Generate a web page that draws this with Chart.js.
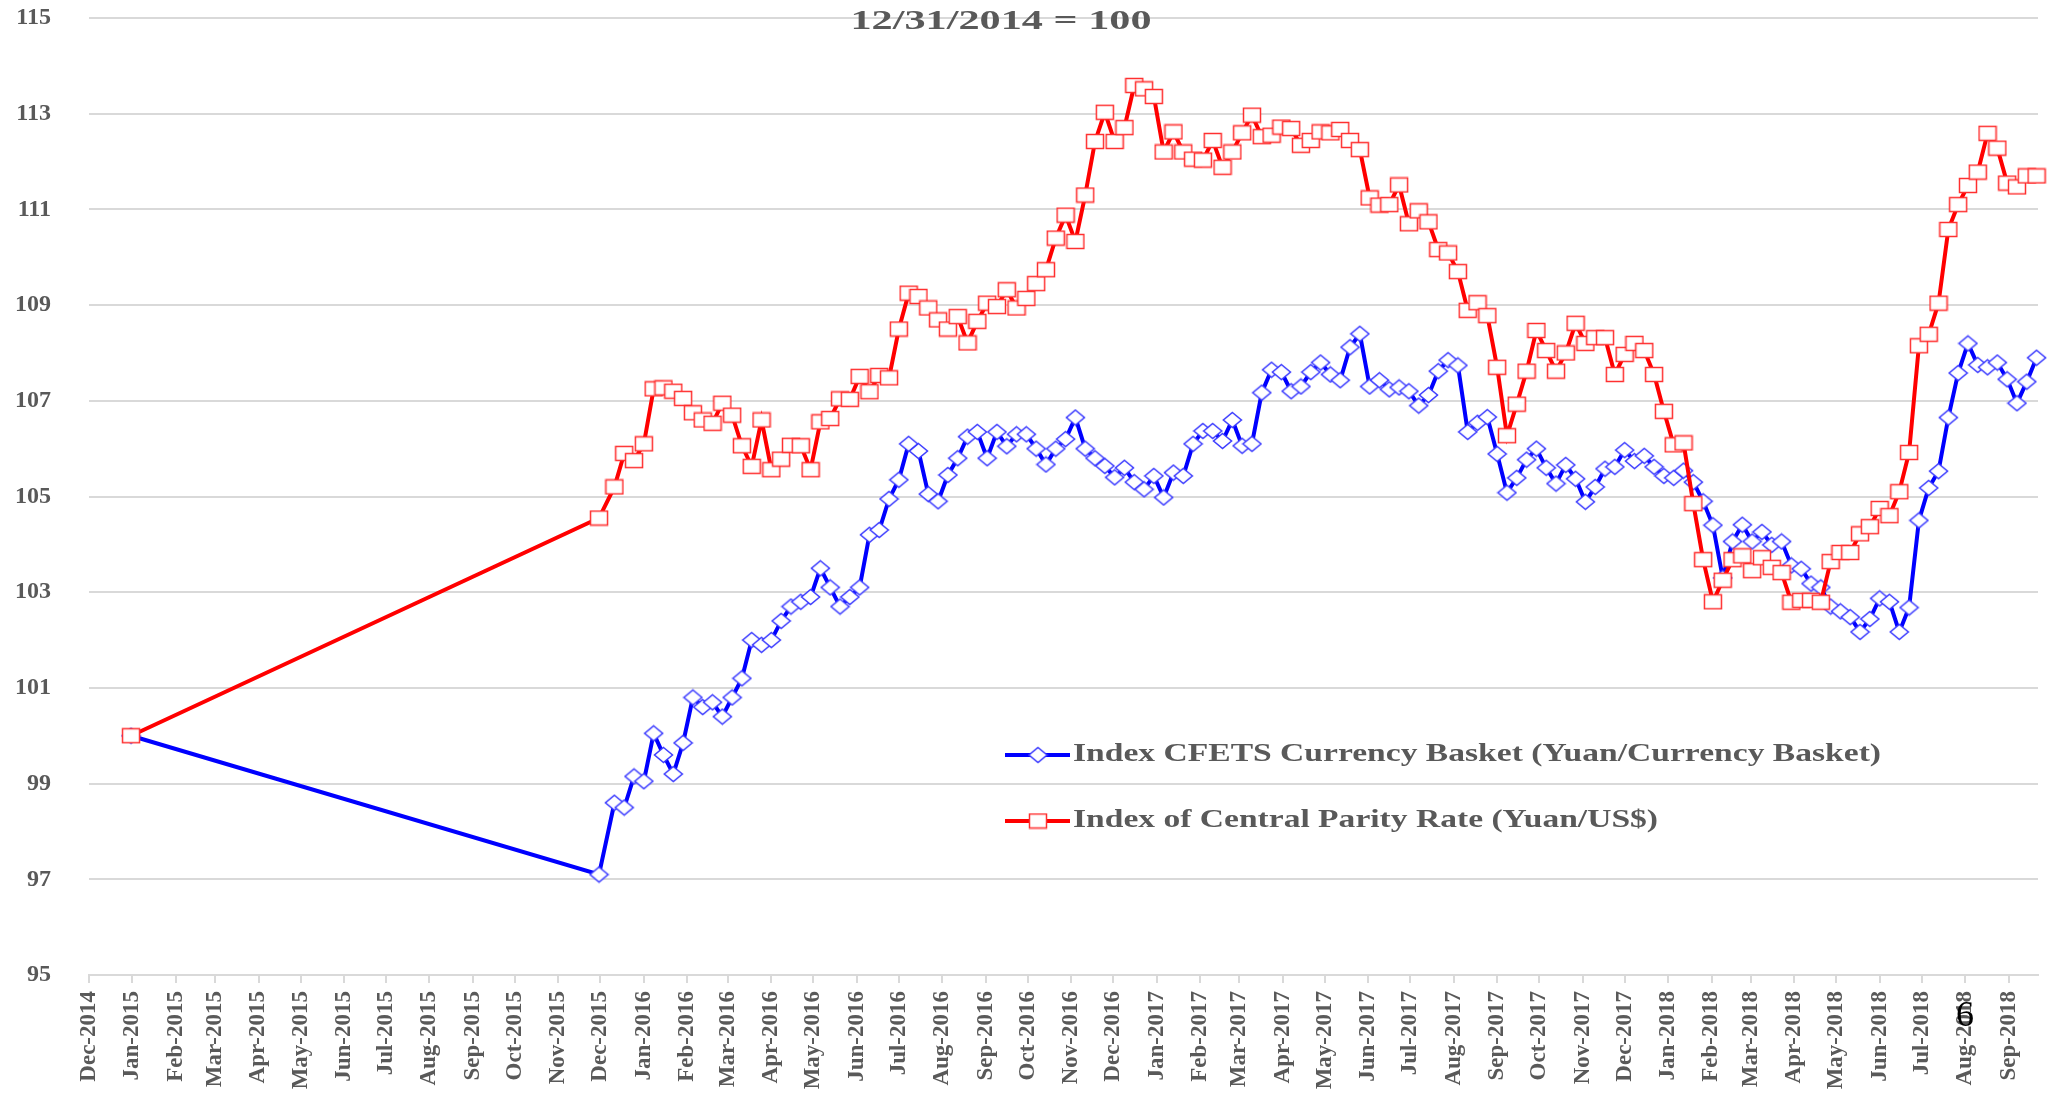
<!DOCTYPE html>
<html>
<head>
<meta charset="utf-8">
<title>CFETS basket index vs central parity index</title>
<script src="https://cdn.jsdelivr.net/npm/chart.js@4.4.1/dist/chart.umd.min.js"></script>
<style>
  html, body { margin: 0; padding: 0; background: #fff; }
  canvas { display: block; }
</style>
</head>
<body>
<canvas id="chart" width="2053" height="1099"></canvas>
<script>
// month ticks along the x axis
const monthLabels = [
  'Dec-2014',
  'Jan-2015','Feb-2015','Mar-2015','Apr-2015','May-2015','Jun-2015',
  'Jul-2015','Aug-2015','Sep-2015','Oct-2015','Nov-2015','Dec-2015',
  'Jan-2016','Feb-2016','Mar-2016','Apr-2016','May-2016','Jun-2016',
  'Jul-2016','Aug-2016','Sep-2016','Oct-2016','Nov-2016','Dec-2016',
  'Jan-2017','Feb-2017','Mar-2017','Apr-2017','May-2017','Jun-2017',
  'Jul-2017','Aug-2017','Sep-2017','Oct-2017','Nov-2017','Dec-2017',
  'Jan-2018','Feb-2018','Mar-2018','Apr-2018','May-2018','Jun-2018',
  'Jul-2018','Aug-2018','Sep-2018'
];

// observation dates: the 12/31/2014 base, end of Nov 2015, then weekly fixings
const obsDates = [
  '2014-12-31','2015-11-30',
  '2015-12-11','2015-12-18','2015-12-25',
  '2016-01-01','2016-01-08','2016-01-15','2016-01-22','2016-01-29',
  '2016-02-05','2016-02-12','2016-02-19','2016-02-26',
  '2016-03-04','2016-03-11','2016-03-18','2016-03-25',
  '2016-04-01','2016-04-08','2016-04-15','2016-04-22','2016-04-29',
  '2016-05-06','2016-05-13','2016-05-20','2016-05-27',
  '2016-06-03','2016-06-10','2016-06-17','2016-06-24',
  '2016-07-01','2016-07-08','2016-07-15','2016-07-22','2016-07-29',
  '2016-08-05','2016-08-12','2016-08-19','2016-08-26',
  '2016-09-02','2016-09-09','2016-09-16','2016-09-23','2016-09-30',
  '2016-10-07','2016-10-14','2016-10-21','2016-10-28',
  '2016-11-04','2016-11-11','2016-11-18','2016-11-25',
  '2016-12-02','2016-12-09','2016-12-16','2016-12-23','2016-12-30',
  '2017-01-06','2017-01-13','2017-01-20','2017-01-27',
  '2017-02-03','2017-02-10','2017-02-17','2017-02-24',
  '2017-03-03','2017-03-10','2017-03-17','2017-03-24','2017-03-31',
  '2017-04-07','2017-04-14','2017-04-21','2017-04-28',
  '2017-05-05','2017-05-12','2017-05-19','2017-05-26',
  '2017-06-02','2017-06-09','2017-06-16','2017-06-23','2017-06-30',
  '2017-07-07','2017-07-14','2017-07-21','2017-07-28',
  '2017-08-04','2017-08-11','2017-08-18','2017-08-25',
  '2017-09-01','2017-09-08','2017-09-15','2017-09-22','2017-09-29',
  '2017-10-06','2017-10-13','2017-10-20','2017-10-27',
  '2017-11-03','2017-11-10','2017-11-17','2017-11-24',
  '2017-12-01','2017-12-08','2017-12-15','2017-12-22','2017-12-29',
  '2018-01-05','2018-01-12','2018-01-19','2018-01-26',
  '2018-02-02','2018-02-09','2018-02-16','2018-02-23',
  '2018-03-02','2018-03-09','2018-03-16','2018-03-23','2018-03-30',
  '2018-04-06','2018-04-13','2018-04-20','2018-04-27',
  '2018-05-04','2018-05-11','2018-05-18','2018-05-25',
  '2018-06-01','2018-06-08','2018-06-15','2018-06-22','2018-06-29',
  '2018-07-06','2018-07-13','2018-07-20','2018-07-27',
  '2018-08-03','2018-08-10','2018-08-17','2018-08-24','2018-08-31',
  '2018-09-07','2018-09-14','2018-09-21'
];

// Index CFETS Currency Basket (blue)
const cfetsIndex = [
  100,
  97.1,
  98.6, 98.5, 99.15,
  99.05, 100.05, 99.6, 99.2, 99.85,
  100.8, 100.6, 100.7, 100.4,
  100.8, 101.2, 102.0, 101.9,
  102.0, 102.4, 102.7, 102.8, 102.9,
  103.5, 103.1, 102.7, 102.9,
  103.1, 104.2, 104.3, 104.95,
  105.35, 106.1, 105.95, 105.05, 104.9,
  105.45, 105.8, 106.25, 106.35,
  105.8, 106.35, 106.05, 106.3, 106.3,
  106.0, 105.67, 106.0, 106.2,
  106.65, 106.0, 105.8, 105.64,
  105.4, 105.6, 105.3, 105.15, 105.43,
  104.98, 105.5, 105.43, 106.1,
  106.37, 106.37, 106.16, 106.6,
  106.06, 106.1, 107.17, 107.65, 107.6,
  107.2, 107.3, 107.6, 107.8,
  107.55, 107.43, 108.12, 108.4,
  107.3, 107.43, 107.24, 107.28, 107.2,
  106.9, 107.12, 107.62, 107.85,
  107.74, 106.35, 106.54, 106.66,
  105.89, 105.08, 105.39, 105.77, 106.0,
  105.6, 105.27, 105.66, 105.37,
  104.89, 105.2, 105.58, 105.62,
  105.97, 105.74, 105.85, 105.62, 105.43,
  105.39, 105.54, 105.3, 104.9,
  104.4, 103.3, 104.06, 104.41,
  104.06, 104.26, 103.99, 104.06, 103.56,
  103.49, 103.18, 103.1, 102.7,
  102.6, 102.48, 102.17, 102.44,
  102.87, 102.8, 102.17, 102.68, 104.5,
  105.18, 105.53, 106.65, 107.58,
  108.2, 107.75, 107.7, 107.8, 107.45,
  106.95, 107.4, 107.9
];

// Index of Central Parity Rate (red)
const parityIndex = [
  100,
  104.55,
  105.2, 105.9, 105.75,
  106.1, 107.25, 107.27, 107.2, 107.05,
  106.75, 106.6, 106.53, 106.95,
  106.7, 106.06, 105.63, 106.6,
  105.56, 105.78, 106.07, 106.06, 105.56,
  106.56, 106.63, 107.04, 107.03,
  107.51, 107.19, 107.53, 107.48,
  108.5, 109.25, 109.18, 108.94, 108.69,
  108.5, 108.76, 108.21, 108.66,
  109.04, 108.97, 109.32, 108.94, 109.14,
  109.45, 109.74, 110.4, 110.88,
  110.33, 111.3, 112.42, 113.03,
  112.42, 112.71, 113.59, 113.52, 113.36,
  112.2, 112.62, 112.2, 112.05,
  112.03, 112.44, 111.88, 112.2,
  112.6, 112.97, 112.52, 112.55, 112.72,
  112.69, 112.34, 112.44, 112.62,
  112.6, 112.67, 112.44, 112.25,
  111.24, 111.09, 111.1, 111.51, 110.7,
  110.97, 110.74, 110.16, 110.09,
  109.7, 108.89, 109.05, 108.78,
  107.7, 106.27, 106.93, 107.62, 108.47,
  108.05, 107.62, 108.0, 108.62,
  108.2, 108.32, 108.32, 107.55,
  107.97, 108.2, 108.05, 107.55, 106.78,
  106.08, 106.12, 104.85, 103.68,
  102.8, 103.25, 103.68, 103.76,
  103.45, 103.72, 103.52, 103.41, 102.79,
  102.83, 102.83, 102.79, 103.64,
  103.83, 103.83, 104.22, 104.37,
  104.75, 104.6, 105.1, 105.92, 108.15,
  108.39, 109.04, 110.58, 111.1,
  111.5, 111.78, 112.59, 112.28, 111.55,
  111.47, 111.7, 111.7
];

const seriesNames = [
  'Index CFETS Currency Basket (Yuan/Currency Basket)',
  'Index of Central Parity Rate (Yuan/US$)'
];
const subtitle = '12/31/2014 = 100';
const slideNumber = '6';

const SERIF = '"Liberation Serif", "DejaVu Serif", serif';
const GREY = '#595959';
const GRID = '#d9d9d9';
const MONTHS = ['Jan','Feb','Mar','Apr','May','Jun','Jul','Aug','Sep','Oct','Nov','Dec'];
const ORIGIN = Date.UTC(2014, 11, 1);

// days since 1 Dec 2014, so the axis spacing follows the calendar
function dayOf(iso) {
  const [y, m, d] = iso.split('-').map(Number);
  return (Date.UTC(y, m - 1, d) - ORIGIN) / 864e5;
}
function monthDay(label) {
  const [mon, yr] = label.split('-');
  return (Date.UTC(Number(yr), MONTHS.indexOf(mon), 1) - ORIGIN) / 864e5;
}
const tickDays = monthLabels.map(monthDay);

// little stretched markers, like the ones in the slide
function makeMarker(shape, w, h, stroke) {
  const c = document.createElement('canvas');
  c.width = w + 3;
  c.height = h + 3;
  const g = c.getContext('2d');
  const cx = c.width / 2, cy = c.height / 2;
  g.fillStyle = '#fff';
  g.strokeStyle = stroke;
  g.lineWidth = 1.5;
  g.beginPath();
  if (shape === 'square') {
    g.rect(cx - w / 2, cy - h / 2, w, h);
  } else {
    g.moveTo(cx, cy - h / 2);
    g.lineTo(cx + w / 2, cy);
    g.lineTo(cx, cy + h / 2);
    g.lineTo(cx - w / 2, cy);
    g.closePath();
  }
  g.fill();
  g.stroke();
  return c;
}
const diamond = makeMarker('diamond', 18, 15, '#3838ff');
const square = makeMarker('square', 17, 14, '#ff3030');

function drawFitted(ctx, text, x, y, font, color, width, align) {
  ctx.save();
  ctx.font = font;
  ctx.fillStyle = color;
  ctx.textBaseline = 'middle';
  ctx.textAlign = align;
  const sx = width / ctx.measureText(text).width;
  ctx.translate(x, y);
  ctx.scale(sx, 1);
  ctx.fillText(text, 0, 0);
  ctx.restore();
}

// subtitle, in-plot legend and the slide number
const decorations = {
  id: 'decorations',
  afterDraw(chart) {
    const ctx = chart.ctx;
    drawFitted(ctx, subtitle, 1001, 22, 'bold 28px ' + SERIF, GREY, 301, 'center');

    const legendRows = [755, 821];
    const legendWidths = [808, 585];
    chart.data.datasets.forEach((ds, i) => {
      const y = legendRows[i];
      ctx.save();
      ctx.strokeStyle = ds.borderColor;
      ctx.lineWidth = 4;
      ctx.beginPath();
      ctx.moveTo(1005, y);
      ctx.lineTo(1070, y);
      ctx.stroke();
      const img = ds.pointStyle;
      ctx.drawImage(img, 1038 - img.width / 2, y - img.height / 2);
      ctx.restore();
      drawFitted(ctx, ds.label, 1073, y, 'bold 25px ' + SERIF, GREY, legendWidths[i], 'left');
    });

    ctx.save();
    ctx.font = '36px ' + SERIF;
    ctx.fillStyle = '#000';
    ctx.textAlign = 'center';
    ctx.textBaseline = 'middle';
    ctx.fillText(slideNumber, 1965, 1017);
    ctx.restore();
  }
};

const ctx = document.getElementById('chart').getContext('2d');
new Chart(ctx, {
  type: 'line',
  data: {
    datasets: [
      {
        label: seriesNames[0],
        data: obsDates.map((d, i) => ({ x: dayOf(d), y: cfetsIndex[i] })),
        borderColor: '#0000ff',
        borderWidth: 4,
        pointStyle: diamond,
        pointRadius: 8,
        tension: 0,
        clip: false,
        order: 1
      },
      {
        label: seriesNames[1],
        data: obsDates.map((d, i) => ({ x: dayOf(d), y: parityIndex[i] })),
        borderColor: '#ff0000',
        borderWidth: 4,
        pointStyle: square,
        pointRadius: 8,
        tension: 0,
        clip: false,
        order: 0
      }
    ]
  },
  options: {
    responsive: false,
    animation: false,
    events: [],
    layout: { padding: { top: 18, right: 15, left: 0, bottom: 0 } },
    plugins: {
      legend: { display: false },
      tooltip: { enabled: false }
    },
    scales: {
      x: {
        type: 'linear',
        min: 0,
        max: 1391,
        afterBuildTicks: scale => {
          scale.ticks = tickDays.map(v => ({ value: v }));
        },
        afterFit: scale => { scale.height = 124; },
        ticks: {
          autoSkip: false,
          minRotation: 90,
          maxRotation: 90,
          padding: 8,
          color: GREY,
          font: { family: SERIF, size: 23, weight: 'bold' },
          callback: (value, index) => monthLabels[index]
        },
        grid: { drawOnChartArea: false, tickLength: 8, color: GRID, lineWidth: 2 },
        border: { color: GRID, width: 2 }
      },
      y: {
        min: 95,
        max: 115,
        afterFit: scale => { scale.width = 89; },
        ticks: {
          stepSize: 2,
          padding: 0,
          color: GREY,
          font: { family: SERIF, size: 24, weight: 'bold' }
        },
        // invisible tick marks keep the labels off the plot without padding the top
        grid: { color: GRID, lineWidth: 2, drawTicks: true, tickLength: 38, tickColor: 'rgba(0,0,0,0)' },
        border: { display: false }
      }
    }
  },
  plugins: [decorations]
});
</script>
</body>
</html>
